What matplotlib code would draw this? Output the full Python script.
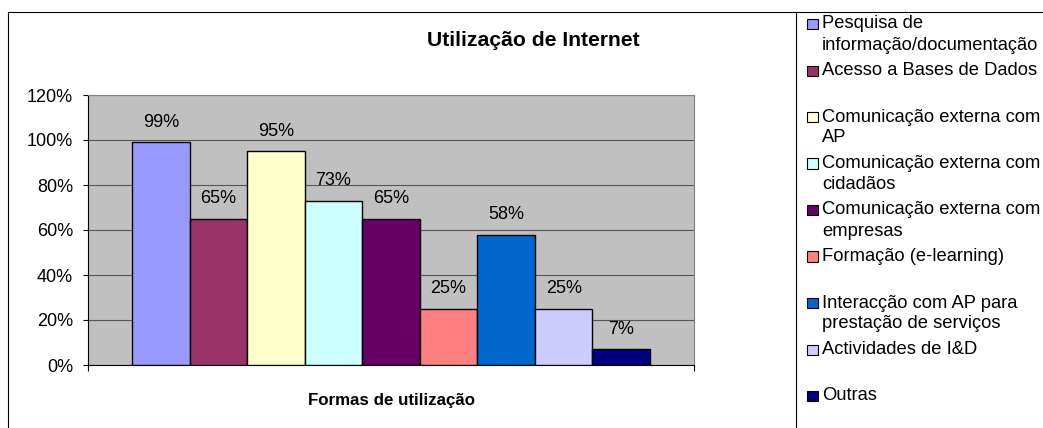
import matplotlib
matplotlib.use("Agg")
import matplotlib.pyplot as plt
from matplotlib.lines import Line2D
from matplotlib.patches import Rectangle

plt.rcParams['font.family'] = ['Liberation Sans', 'DejaVu Sans']

# ---- data ----
title = "Utilização de Internet"
xlabel = "Formas de utilização"
categories = [
    "Pesquisa de\ninformação/documentação",
    "Acesso a Bases de Dados",
    "Comunicação externa com\nAP",
    "Comunicação externa com\ncidadãos",
    "Comunicação externa com\nempresas",
    "Formação (e-learning)",
    "Interacção com AP para\nprestação de serviços",
    "Actividades de I&D",
    "Outras",
]
values = [99, 65, 95, 73, 65, 25, 58, 25, 7]
colors = ["#9999FF", "#993366", "#FFFFCC", "#CCFFFF", "#660066",
          "#FF8080", "#0066CC", "#CCCCFF", "#000080"]
yticks = [0, 20, 40, 60, 80, 100, 120]

W, H = 1043, 428
DPI = 100
fig = plt.figure(figsize=(W / DPI, H / DPI), dpi=DPI)
fig.patch.set_facecolor("white")

def fx(px):
    return px / W

def fy(py):
    return 1 - py / H

# plot area
ax = fig.add_axes([fx(88), fy(365), fx(694) - fx(88), fy(95) - fy(365)])
ax.set_facecolor("#C0C0C0")

n = len(values)
gap = 0.765
ax.bar(range(n), values, width=1.0, align="edge", color=colors,
       edgecolor="black", linewidth=1.0, zorder=3)
for i, v in enumerate(values):
    ax.annotate(f"{v}%", (i + 0.5, v), xytext=(0, 14.4),
                textcoords="offset points", ha="center", va="center",
                fontsize=13, color="black", zorder=4)

ax.set_xlim(-gap, n + gap)
ax.set_ylim(0, 120)
ax.set_yticks(yticks)
ax.set_yticklabels([f"{t}%" for t in yticks], fontsize=13)
ax.set_xticks([-gap, n + gap])
ax.set_xticklabels([])
ax.tick_params(axis="y", direction="out", length=3.6, width=0.8, pad=7.2,
               colors="black")
ax.tick_params(axis="x", direction="out", length=4.3, width=0.8)
ax.yaxis.grid(True, color="#555555", linewidth=0.8, zorder=1)
ax.set_axisbelow(True)
for s in ["left", "bottom"]:
    ax.spines[s].set_color("black")
    ax.spines[s].set_linewidth(0.8)
for s in ["top", "right"]:
    ax.spines[s].set_color("#808080")
    ax.spines[s].set_linewidth(0.8)

# titles
fig.text(fx(533), fy(40), title, ha="center", va="center",
         fontsize=15.2, fontweight="bold")
fig.text(fx(391), fy(400), xlabel, ha="center", va="center",
         fontsize=12.2, fontweight="bold")

# chart borders
fig.add_artist(Line2D([fx(8), fx(W)], [fy(12), fy(12)], color="black", lw=0.8))
fig.add_artist(Line2D([fx(8), fx(8)], [fy(12), fy(H)], color="black", lw=0.8))
fig.add_artist(Line2D([fx(796), fx(796)], [fy(12), fy(H)], color="black", lw=0.8))

# legend
entry_y0 = 24
entry_step = 46.5
line_step = 21
for i, (lab, c) in enumerate(zip(categories, colors)):
    y = entry_y0 + i * entry_step
    fig.add_artist(Rectangle((fx(807), fy(y + 5)), fx(11), fy(y - 5) - fy(y + 5),
                             facecolor=c, edgecolor="black", linewidth=0.8,
                             transform=fig.transFigure))
    for j, line in enumerate(lab.split("\n")):
        fig.text(fx(822), fy(y + j * line_step), line, ha="left", va="center",
                 fontsize=13.2)

fig.savefig("out.png", dpi=DPI)
